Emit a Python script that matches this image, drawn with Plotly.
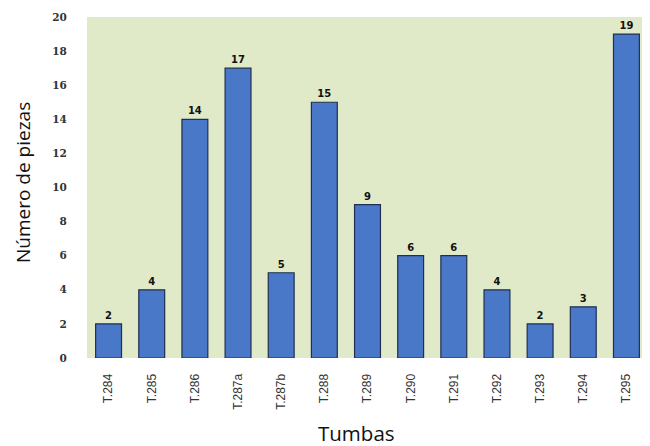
import plotly.graph_objects as go

categorias = ["T.284", "T.285", "T.286", "T.287a", "T.287b", "T.288", "T.289",
              "T.290", "T.291", "T.292", "T.293", "T.294", "T.295"]
piezas = [2, 4, 14, 17, 5, 15, 9, 6, 6, 4, 2, 3, 19]
y_ticks = [0, 2, 4, 6, 8, 10, 12, 14, 16, 18, 20]

fig = go.Figure()
fig.add_trace(go.Bar(
    x=categorias, y=piezas,
    width=0.6,
    marker=dict(color="#4a78c8", line=dict(color="#1f2f4f", width=1.2)),
    text=[str(v) for v in piezas],
    textposition="outside",
    textfont=dict(family="DejaVu Sans", size=10, color="#111111"),
    texttemplate="<b>%{text}</b>",
    cliponaxis=False,
))

fig.update_layout(
    width=650, height=446,
    margin=dict(l=79, r=10, t=9, b=96),
    paper_bgcolor="white",
    plot_bgcolor="#e1eac8",
    showlegend=False,
    bargap=0.4,
    annotations=[
        dict(text="Número de piezas", xref="paper", yref="paper", x=-0.113, y=0.515,
             xanchor="center", yanchor="middle", textangle=-90, showarrow=False,
             font=dict(family="Open Sans", size=19, color="#111111")),
        dict(text="Tumbas", xref="paper", yref="paper", x=0.481, y=-0.22,
             xanchor="center", yanchor="middle", showarrow=False,
             font=dict(family="Open Sans", size=20.5, color="#111111")),
    ],
)
fig.update_yaxes(
    range=[0, 20], tickvals=y_ticks, ticktext=["<b>%d</b>" % v for v in y_ticks],
    showgrid=False, zeroline=False, automargin=False,
    ticks="outside", ticklen=17, tickcolor="rgba(0,0,0,0)",
    tickfont=dict(family="DejaVu Serif", size=10.5, color="#333333"),
)
fig.update_xaxes(
    tickangle=-90, showgrid=False, automargin=False,
    ticks="outside", ticklen=10, tickcolor="rgba(0,0,0,0)",
    tickfont=dict(family="Liberation Sans", size=12, color="#333333"),
)

fig.write_html("out.html")
